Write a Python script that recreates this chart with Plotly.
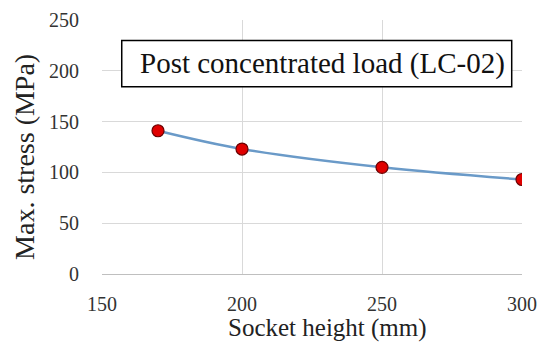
import plotly.graph_objects as go

socket_height = [170, 200, 250, 300]
max_stress = [141, 123, 105, 93]
x_ticks = [150, 200, 250, 300]
y_ticks = [0, 50, 100, 150, 200, 250]
label_text = "Post concentrated load (LC-02)"
x_title = "Socket height (mm)"
y_title = "Max. stress (MPa)"

fig = go.Figure()
fig.add_trace(go.Scatter(
    x=socket_height, y=max_stress, mode="lines",
    line=dict(shape="spline", color="#6a9ac8", width=2.5, smoothing=1.0),
    showlegend=False, hoverinfo="skip"))
fig.add_trace(go.Scatter(
    x=socket_height, y=max_stress, mode="markers",
    marker=dict(size=12, color="#e00000", line=dict(color="#6b0000", width=1.2)),
    showlegend=False))

font = "Liberation Serif, Times New Roman, serif"
# page body has an 8px margin, so the figure is sized/offset to compensate
fig.update_layout(
    width=540, height=337,
    margin=dict(l=94, r=26, t=12, b=71),
    paper_bgcolor="white", plot_bgcolor="white",
    font=dict(family=font, color="#222222"),
    xaxis=dict(range=[150, 300], tickvals=x_ticks, showgrid=True, gridcolor="#d9d9d9",
               gridwidth=1, zeroline=False, showline=True, linecolor="#bfbfbf",
               tickfont=dict(size=20, family=font, color="#333333"),
               ticks="outside", ticklen=12, tickcolor="rgba(0,0,0,0)",
               ticklabeloverflow="allow", automargin=False),
    yaxis=dict(range=[0, 250], tickvals=y_ticks, showgrid=True, gridcolor="#d9d9d9",
               gridwidth=1, zeroline=False, showline=False,
               tickfont=dict(size=20, family=font, color="#333333"),
               ticks="outside", ticklen=18, tickcolor="rgba(0,0,0,0)",
               ticklabeloverflow="allow", automargin=False),
)
fig.add_annotation(xref="paper", yref="paper", x=0.536, y=0, yshift=-54, text=x_title,
                   showarrow=False, font=dict(size=25, family=font, color="#222222"),
                   xanchor="center", yanchor="middle")
fig.add_annotation(xref="paper", yref="paper", x=0, xshift=-77, y=0.461, text=y_title,
                   textangle=-90, showarrow=False, font=dict(size=28, family=font, color="#222222"),
                   xanchor="center", yanchor="middle")
fig.add_shape(type="rect", xref="paper", yref="paper", x0=0.047, x1=0.9755, y0=0.737, y1=0.919,
              line=dict(color="black", width=1.5), fillcolor="white", layer="above")
fig.add_annotation(xref="paper", yref="paper", x=0.0857, y=0.829, text=label_text, showarrow=False,
                   font=dict(size=29, family=font, color="#111111"), xanchor="left", yanchor="middle")

fig.write_html("out.html")
